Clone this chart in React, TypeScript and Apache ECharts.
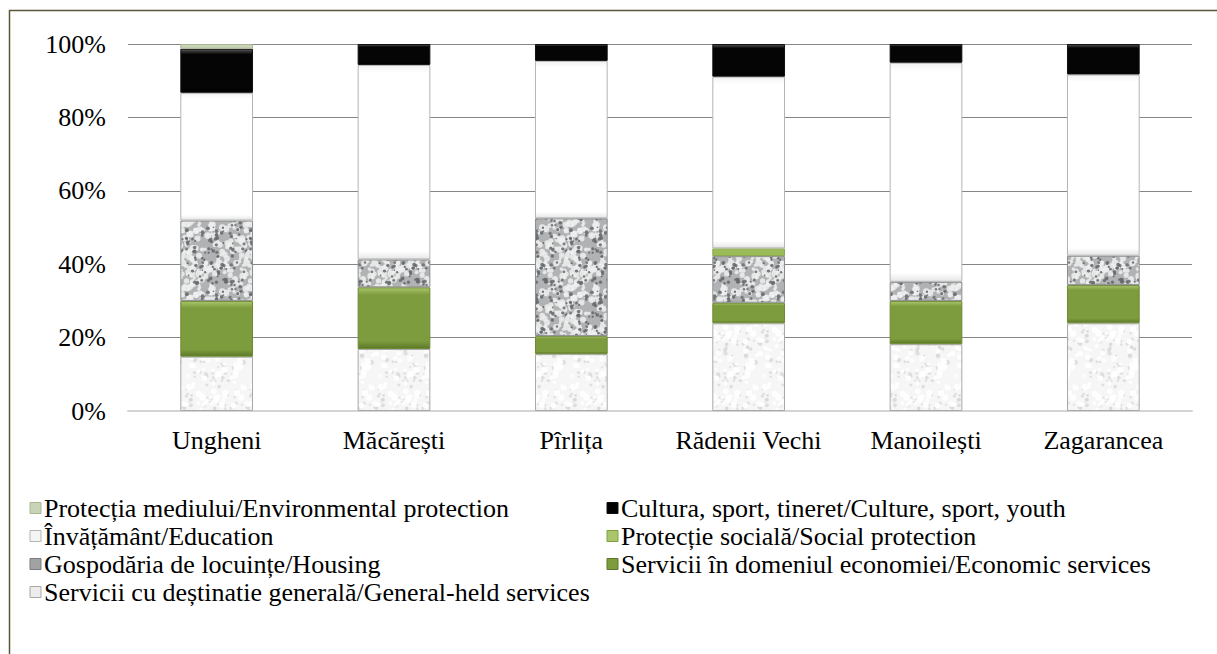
import React, { useEffect, useRef } from "react";
import * as echarts from "echarts";

const categories = ["Ungheni", "Măcărești", "Pîrlița", "Rădenii Vechi", "Manoilești", "Zagarancea"];
const generalServices = [14.8, 16.9, 15.5, 23.9, 18.2, 23.9];
const economicServices = [15.2, 16.8, 4.9, 5.6, 11.8, 10.4];
const housing = [21.9, 7.6, 32.1, 12.7, 5.2, 8.0];
const socialProtection = [0, 0, 0, 2.1, 0, 0];
const education = [34.8, 53.0, 42.9, 46.8, 59.7, 49.4];
const culture = [12.0, 5.7, 4.6, 8.9, 5.1, 8.3];
const environment = [1.3, 0, 0, 0, 0, 0];
const yTicks = [0, 20, 40, 60, 80, 100];

const names = {
  env: "Protecția mediului/Environmental protection",
  culture: "Cultura, sport, tineret/Culture, sport, youth",
  edu: "Învățământ/Education",
  social: "Protecție socială/Social protection",
  housing: "Gospodăria de locuințe/Housing",
  econ: "Servicii în domeniul economiei/Economic services",
  general: "Servicii cu deștinatie generală/General-held services",
};

const legendLeft = [names.env, names.edu, names.housing, names.general];
const legendRight = [names.culture, names.social, names.econ];

function makeTexture(base: string, spots: { color: string; n: number; rMin: number; rMax: number; alpha: number }[], seed: number) {
  const size = 64;
  const c = document.createElement("canvas");
  c.width = size;
  c.height = size;
  const ctx = c.getContext("2d")!;
  ctx.fillStyle = base;
  ctx.fillRect(0, 0, size, size);
  let s = seed;
  const rnd = () => {
    s = (s * 1103515245 + 12345) % 2147483648;
    return s / 2147483648;
  };
  spots.forEach((sp) => {
    ctx.fillStyle = sp.color;
    ctx.globalAlpha = sp.alpha;
    for (let i = 0; i < sp.n; i++) {
      const x = rnd() * size;
      const y = rnd() * size;
      const r = sp.rMin + rnd() * (sp.rMax - sp.rMin);
      for (const dx of [-size, 0, size]) {
        for (const dy of [-size, 0, size]) {
          ctx.beginPath();
          ctx.arc(x + dx, y + dy, r, 0, Math.PI * 2);
          ctx.fill();
        }
      }
    }
  });
  ctx.globalAlpha = 1;
  return { image: c, repeat: "repeat", imageWidth: size, imageHeight: size } as any;
}

export default function App() {
  const ref = useRef<HTMLDivElement>(null);
  useEffect(() => {
    document.body.style.margin = "0";
    const chart = echarts.init(ref.current!, null, { renderer: "svg" });
    const font = "Times New Roman";
    const fontSize = 26;

    const housingTex = makeTexture(
      "#b0b2b4",
      [
        { color: "#eeeeee", n: 150, rMin: 1.5, rMax: 3.5, alpha: 0.85 },
        { color: "#63666a", n: 110, rMin: 0.8, rMax: 2.0, alpha: 0.85 },
      ],
      7
    );
    const generalTex = makeTexture(
      "#f6f6f6",
      [
        { color: "#d6d6d6", n: 70, rMin: 0.8, rMax: 2.5, alpha: 0.7 },
        { color: "#ffffff", n: 60, rMin: 1.5, rMax: 3.5, alpha: 0.9 },
      ],
      13
    );

    const totals = categories.map(
      (_, i) =>
        generalServices[i] + economicServices[i] + housing[i] + socialProtection[i] + education[i] + culture[i] + environment[i]
    );
    const norm = (arr: number[]) => arr.map((v, i) => (v > 0 ? (v / totals[i]) * 100 : "-"));

    const vgrad = (top: string, mid: string, bottom: string, edge = 0.12) => ({
      type: "linear",
      x: 0,
      y: 0,
      x2: 0,
      y2: 1,
      colorStops: [
        { offset: 0, color: top },
        { offset: edge, color: mid },
        { offset: 1 - edge, color: mid },
        { offset: 1, color: bottom },
      ],
    });

    const mk = (name: string, data: number[], color: any, border: string) => ({
      name,
      type: "bar",
      stack: "total",
      barWidth: "41%",
      data: norm(data),
      itemStyle: { color, borderColor: border, borderWidth: 1 },
      emphasis: { disabled: true },
    });

    const series = [
      mk(names.general, generalServices, generalTex, "#a8a8a8"),
      mk(names.econ, economicServices, vgrad("#a9c56a", "#7d9c3e", "#5c7828"), "#6d8a33"),
      mk(names.housing, housing, housingTex, "#8a8c8e"),
      mk(names.social, socialProtection, vgrad("#c2db8a", "#9bbb59", "#7f9f42"), "#8aaa4c"),
      mk(names.edu, education, vgrad("#f2f2f2", "#ffffff", "#e6e6e6", 0.04), "#b4b4b4"),
      mk(names.culture, culture, vgrad("#555555", "#050505", "#000000"), "#111111"),
      mk(names.env, environment, "#c9d4b6", "#a9b696"),
    ];

    const iconColors: Record<string, [string, string]> = {
      [names.env]: ["#c9d4b6", "#a9b696"],
      [names.edu]: ["#f4f4f4", "#b4b4b4"],
      [names.housing]: ["#a0a2a4", "#7a7c7e"],
      [names.general]: ["#ececec", "#a8a8a8"],
      [names.culture]: ["#000000", "#111111"],
      [names.social]: ["#a9c66a", "#7f9f42"],
      [names.econ]: ["#7d9c3e", "#5c7828"],
    };

    const border = {
      type: "rect",
      shape: { x: 9.5, y: 10.5, width: 1230, height: 660 },
      style: { fill: "none", stroke: "#5b5636", lineWidth: 1.5 },
      silent: true,
    };

    const baseOption = {
      animation: false,
      backgroundColor: "#fff",
      grid: { left: 128, right: 25, top: 44, bottom: 243 },
      xAxis: {
        type: "category",
        data: categories,
        axisTick: { show: false },
        axisLine: { show: true, lineStyle: { color: "#d4d4d4", width: 2 } },
        axisLabel: { show: false, fontFamily: font, fontSize, color: "#000", margin: 16, interval: 0 },
      },
      yAxis: {
        type: "value",
        min: 0,
        max: 100,
        interval: 20,
        axisLine: { show: false },
        axisTick: { show: false },
        axisLabel: { show: false, fontFamily: font, fontSize, color: "#000", margin: 22, formatter: "{value}%" },
        splitLine: { lineStyle: { color: "#868686", width: 1 } },
      },
      legend: { show: false },
      graphic: [border],
      series,
    };
    chart.setOption(baseOption as any);

    try {
      const mctx = document.createElement("canvas").getContext("2d")!;
      mctx.font = `${fontSize}px "${font}", serif`;
      const measure = (t: string) => mctx.measureText(t).width;
      const txt = (text: string, x: number, y: number) => ({
        type: "text",
        x,
        y,
        style: { text, fontFamily: font, fontSize, fill: "#000" },
      });
      const els: any[] = [border];
      yTicks.forEach((v) => {
        const py = chart.convertToPixel({ yAxisIndex: 0 } as any, v) as number;
        const label = v + "%";
        els.push(txt(label, 106 - measure(label), py - 13));
      });
      categories.forEach((c) => {
        const px = chart.convertToPixel({ xAxisIndex: 0 } as any, c) as number;
        els.push(txt(c, px - measure(c) / 2, 427));
      });
      const addLegend = (list: string[], iconX: number) => {
        list.forEach((n, i) => {
          const cy = 508 + i * 28;
          const [fill, stroke] = iconColors[n];
          els.push({
            type: "rect",
            shape: { x: iconX, y: cy - 5.5, width: 11, height: 11 },
            style: { fill, stroke, lineWidth: 1 },
          });
          els.push(txt(n, iconX + 14, cy - 13));
        });
      };
      addLegend(legendLeft, 30);
      addLegend(legendRight, 607);
      chart.setOption({ graphic: els } as any);
    } catch (e) {
      chart.setOption({
        xAxis: { axisLabel: { show: true } },
        yAxis: { axisLabel: { show: true } },
        legend: [
          {
            show: true,
            orient: "vertical",
            left: 29,
            top: 494,
            itemWidth: 11,
            itemHeight: 11,
            itemGap: 0,
            icon: "rect",
            selectedMode: false,
            textStyle: { fontFamily: font, fontSize, color: "#000", lineHeight: 28 },
            data: legendLeft,
          },
          {
            show: true,
            orient: "vertical",
            left: 606,
            top: 494,
            itemWidth: 11,
            itemHeight: 11,
            itemGap: 0,
            icon: "rect",
            selectedMode: false,
            textStyle: { fontFamily: font, fontSize, color: "#000", lineHeight: 28 },
            data: legendRight,
          },
        ],
      } as any);
    }
    return () => chart.dispose();
  }, []);
  return <div ref={ref} style={{ width: 1217, height: 654 }} />;
}
